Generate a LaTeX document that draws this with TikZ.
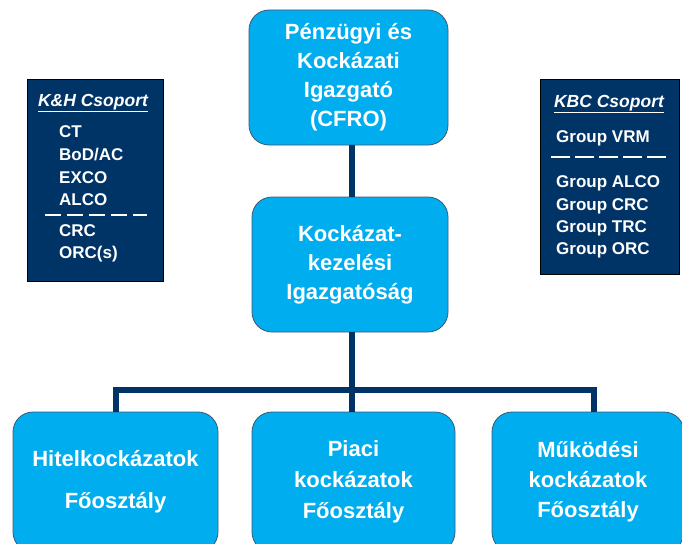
\documentclass[tikz,border=0pt]{standalone}
\usepackage{fontspec}
\setmainfont{Liberation Sans}
\definecolor{navy}{RGB}{0,51,102}
\definecolor{skyb}{RGB}{0,173,239}
\definecolor{bordc}{RGB}{60,90,120}
\begin{document}
\begin{tikzpicture}[x=1pt,y=-1pt,
  bluebox/.style={draw=bordc, line width=0.8pt, fill=skyb, rounded corners=20pt, text=white,
     font=\bfseries\fontsize{22}{29}\selectfont, align=center, inner sep=0pt},
  darkbox/.style={draw=black, line width=0.8pt, fill=navy, inner sep=0pt},
  conn/.style={draw=navy, line width=5.5pt},
  item/.style={anchor=base west, text=white, font=\bfseries\fontsize{17}{20}\selectfont, inner sep=0pt},
  ttl/.style={anchor=base, text=white, font=\bfseries\itshape\fontsize{17.5}{20}\selectfont, inner sep=0pt},
  dashln/.style={draw=white, line width=1.8pt}]
\useasboundingbox (0,0) rectangle (682,543);
\clip (0,0) rectangle (682,543);
\fill[white] (0,0) rectangle (682,543);

\coordinate (j) at (352,390);
\coordinate (lc) at (116,390);
\coordinate (rc) at (594,390);

% blue boxes
\node[bluebox, minimum width=199pt, minimum height=135pt] (top) at (348.5,77.5) {P\'enz\"ugyi \'es\\Kock\'azati\\Igazgat\'o\\(CFRO)};
\node[bluebox, minimum width=196pt, minimum height=135pt] (mid) at (350,264.5) {Kock\'azat-\\kezel\'esi\\Igazgat\'os\'ag};
\node[bluebox, minimum width=205pt, minimum height=140pt, font=\bfseries\fontsize{22}{42}\selectfont] (b1) at (115.5,482) {Hitelkock\'azatok\\F\H{o}oszt\'aly};
\node[bluebox, minimum width=203pt, minimum height=140pt, font=\bfseries\fontsize{22}{31}\selectfont] (b2) at (353.5,482) {Piaci\\kock\'azatok\\F\H{o}oszt\'aly};
\node[bluebox, minimum width=192pt, minimum height=140pt, font=\bfseries\fontsize{22}{30}\selectfont] (b3) at (588,482) {M\H{u}k\"od\'esi\\kock\'azatok\\F\H{o}oszt\'aly};

% connectors
\draw[conn] (top.south -| j) -- (mid.north -| j);
\draw[conn] (mid.south -| j) -- (b2.north -| j);
\draw[conn] (b1.north -| lc) |- (j) -| (b3.north -| rc);

% left group box
\node[darkbox, minimum width=136pt, minimum height=202pt] (kh) at (95,180) {};
\node[ttl] (khT) at (93,106) {\underline{K\&H Csoport}};
\node[item] (kh1) at (59,137) {CT};
\node[item] (kh2) at (59,160) {BoD/AC};
\node[item] (kh3) at (59,183) {EXCO};
\node[item] (kh4) at (59,205) {ALCO};
\node[item] (kh5) at (59,236) {CRC};
\node[item] (kh6) at (59,258) {ORC(s)};
\draw[dashln, dash pattern=on 16pt off 6pt] (45,215) -- (147,215);

% right group box
\node[darkbox, minimum width=139pt, minimum height=195pt] (kbc) at (609.5,176.5) {};
\node[ttl] (kbcT) at (609,107) {\underline{KBC Csoport}};
\node[item] (kbc1) at (556,142) {Group VRM};
\node[item] (kbc2) at (556,187) {Group ALCO};
\node[item] (kbc3) at (556,210) {Group CRC};
\node[item] (kbc4) at (556,232) {Group TRC};
\node[item] (kbc5) at (556,254) {Group ORC};
\draw[dashln, dash pattern=on 19pt off 5pt] (551,157) -- (668,157);
\end{tikzpicture}
\end{document}
